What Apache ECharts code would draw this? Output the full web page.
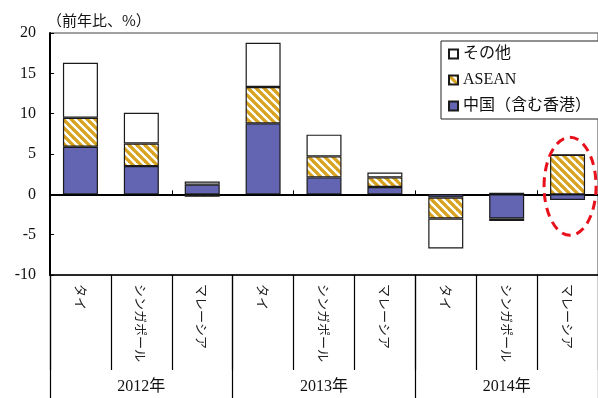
<!DOCTYPE html>
<html><head><meta charset="utf-8">
<script src="https://cdn.jsdelivr.net/npm/echarts@6/dist/echarts.min.js"></script>
<style>html,body{margin:0;padding:0;background:#fff}#c{width:598px;height:398px}</style>
</head><body><div id="c"></div>
<script>
// ---- data ----
const categories = ['タイ','シンガポール','マレーシア','タイ','シンガポール','マレーシア','タイ','シンガポール','マレーシア'];
const years = ['2012年','2013年','2014年'];
const china = [5.9, 3.5, 1.2, 8.8, 2.1, 0.9, -0.4, -3.0, -0.7];
const asean = [3.6, 2.8, -0.3, 4.5, 2.6, 1.2, -2.6, -0.3, 4.9];
const other = [6.8, 3.8, 0.4, 5.5, 2.7, 0.6, -3.7, 0.2, 0];
const yTicks = [-10, -5, 0, 5, 10, 15, 20];
const seriesNames = ['中国（含む香港）', 'ASEAN', 'その他'];
const yUnit = '（前年比、%）';
const highlightIndex = 8;

const SERIF = '"Liberation Serif","Noto Sans CJK JP",serif';
const CJK = '"Noto Sans CJK JP","Liberation Serif",sans-serif';

function hatch() {
  const s = 8, c = document.createElement('canvas');
  c.width = s; c.height = s;
  const g = c.getContext('2d');
  g.fillStyle = '#fff'; g.fillRect(0, 0, s, s);
  g.strokeStyle = '#D9A21E'; g.lineWidth = 3.3;
  for (let k = -1; k <= 1; k++) {
    g.beginPath(); g.moveTo(-2, -2 + k * s); g.lineTo(s + 2, s + 2 + k * s); g.stroke();
  }
  return c;
}
const hatchPattern = { image: hatch(), repeat: 'repeat' };

const gridBox = { left: 50, right: -2, top: 33, bottom: 123 };
const chart = echarts.init(document.getElementById('c'), null, { renderer: 'canvas' });

const border = { borderColor: '#1a1a1a', borderWidth: 1.2 };

chart.setOption({
  animation: false,
  backgroundColor: '#fff',
  title: {
    text: yUnit, left: 42, top: 8,
    textStyle: { fontSize: 15, fontWeight: 'normal', color: '#111', fontFamily: CJK }
  },
  legend: {
    orient: 'vertical', left: 441, top: 41,
    data: [seriesNames[2], seriesNames[1], seriesNames[0]],
    backgroundColor: '#fff', borderColor: '#222', borderWidth: 1,
    padding: [5, 8, 5, 7], itemGap: 10, itemWidth: 9, itemHeight: 9,
    icon: 'rect',
    textStyle: { fontSize: 16, color: '#111', fontFamily: SERIF }
  },
  grid: [
    Object.assign({ show: true, borderColor: '#444', borderWidth: 1, backgroundColor: 'transparent' }, gridBox),
    Object.assign({}, gridBox),
    Object.assign({}, gridBox)
  ],
  xAxis: [
    {
      gridIndex: 0, type: 'category', data: categories,
      axisLine: { onZero: true, lineStyle: { color: '#000', width: 2 } },
      axisTick: { show: true, inside: true, length: 4, lineStyle: { color: '#000', width: 1 } },
      axisLabel: { show: false }
    },
    {
      gridIndex: 1, type: 'category', data: categories, position: 'bottom',
      axisLine: { onZero: false, lineStyle: { color: '#000', width: 1.5 } },
      axisTick: { show: true, length: 95, lineStyle: { color: '#000', width: 1.2 } },
      axisLabel: { interval: 0, rotate: -90, margin: 9, fontSize: 13, color: '#222', fontFamily: CJK }
    },
    {
      gridIndex: 2, type: 'category', data: years, position: 'bottom',
      axisLine: { show: false, onZero: false },
      axisTick: { show: true, length: 123, lineStyle: { color: '#000', width: 1.2 } },
      axisLabel: { interval: 0, margin: 104, fontSize: 16, color: '#111', fontFamily: SERIF }
    }
  ],
  yAxis: [
    {
      gridIndex: 0, type: 'value', min: yTicks[0], max: yTicks[yTicks.length - 1], interval: 5,
      axisLine: { show: true, lineStyle: { color: '#000', width: 2 } },
      axisTick: { show: true, inside: true, length: 4, lineStyle: { color: '#000' } },
      axisLabel: { margin: 14, fontSize: 16, color: '#111', fontFamily: SERIF },
      splitLine: { show: false }
    },
    { gridIndex: 1, type: 'value', show: false, min: 0, max: 1 },
    { gridIndex: 2, type: 'value', show: false, min: 0, max: 1 }
  ],
  series: [
    { name: seriesNames[0], type: 'bar', stack: 's', barWidth: 35, data: china,
      itemStyle: Object.assign({ color: '#6365B2' }, border) },
    { name: seriesNames[1], type: 'bar', stack: 's', barWidth: 35, data: asean,
      itemStyle: Object.assign({ color: hatchPattern }, border) },
    { name: seriesNames[2], type: 'bar', stack: 's', barWidth: 35, data: other,
      itemStyle: Object.assign({ color: '#fff' }, border) }
  ]
});

// highlight ellipse around the last bar (annotation, positioned via the axes)
const ctr = chart.convertToPixel({ xAxisIndex: 0, yAxisIndex: 0 }, [highlightIndex, 1.0]);
chart.setOption({
  graphic: [{
    type: 'ellipse', z: 100,
    shape: { cx: ctr[0] + 2.5, cy: ctr[1], rx: 26, ry: 49 },
    style: { fill: 'none', stroke: '#E8101A', lineWidth: 3, lineDash: [9, 6] }
  }]
});
</script>
</body></html>
